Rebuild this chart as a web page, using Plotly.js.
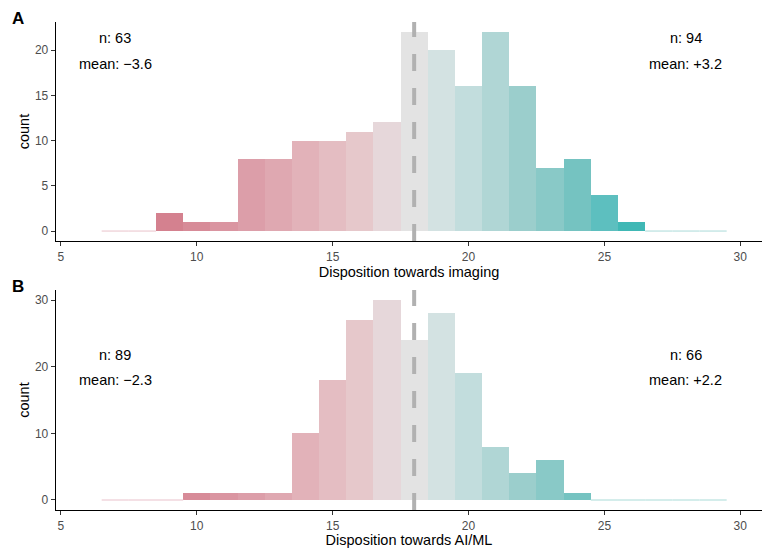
<!DOCTYPE html>
<html>
<head>
<meta charset="utf-8">
<script src="https://cdn.plot.ly/plotly-3.0.1.min.js"></script>
<style>html,body{margin:0;padding:0;background:#fff;}#chart{width:762px;height:548px;}</style>
</head>
<body>
<div id="chart"></div>
<script>
// ---- data ----
const binCenters = [7,8,9,10,11,12,13,14,15,16,17,18,19,20,21,22,23,24,25,26,27,28,29];
const countsImaging = [0,0,2,1,1,8,8,10,10,11,12,22,20,16,22,16,7,8,4,1,0,0,0];
const countsAIML    = [0,0,0,1,1,1,1,10,18,27,30,24,28,19,8,4,6,1,0,0,0,0,0];
const neutralPoint = 18;
const statsImaging = {nNeg: 63, meanNeg: "−3.6", nPos: 94, meanPos: "+3.2"};
const statsAIML    = {nNeg: 89, meanNeg: "−2.3", nPos: 66, meanPos: "+2.2"};
const xTickVals = [5,10,15,20,25,30];
const yTickValsA = [0,5,10,15,20];
const yTickValsB = [0,10,20,30];

// ---- styles ----
const binColors = ['#cc6a7c','#d07585','#d4818f','#d78b98','#da95a1','#dc9ea9','#dfa8b1','#e2b2b9','#e4bdc2','#e6c8cb','#e6d7da',
  '#e3e3e3','#d3e2e2','#c2dddd','#b0d6d5','#9bcecc','#89c9c7','#75c3c1','#5dbfbf','#40b8b5','#30b3b0','#25afac','#1aaba8'];
const zeroLineColorsNeg = '#f1d6dc', zeroLineColorPos = '#c6e7e5';

function panelTraces(counts, xa, ya){
  const traces = [{
    type:'bar', x: binCenters, y: counts, width: 1,
    marker:{color: binColors, line:{width:0}},
    xaxis: xa, yaxis: ya, hoverinfo:'x+y', showlegend:false
  }];
  binCenters.forEach((c,i)=>{
    if(counts[i]===0){
      traces.push({type:'scatter', mode:'lines', x:[c-0.5,c+0.5], y:[counts[i],counts[i]],
        line:{color: c<neutralPoint ? zeroLineColorsNeg : zeroLineColorPos, width:1.5},
        xaxis: xa, yaxis: ya, hoverinfo:'skip', showlegend:false});
    }
  });
  return traces;
}

const data = [...panelTraces(countsImaging,'x','y'), ...panelTraces(countsAIML,'x2','y2')];

const tickFont = {family:'"Liberation Sans", Arial, sans-serif', size:12, color:'#4d4d4d'};
const titleFont = {family:'"Liberation Sans", Arial, sans-serif', size:14.5, color:'#000'};
const xRange = [4.82, 30.8];

function xaxis(anchor, title){
  return {anchor: anchor, domain:[0,1], range: xRange, tickvals: xTickVals, ticks:'outside', ticklen:4, tickwidth:1,
    tickcolor:'#333', showline:true, linecolor:'#000', linewidth:1.3, showgrid:false, zeroline:false,
    tickfont: tickFont, title:{text: title, font: titleFont, standoff: 3}};
}
function yaxis(anchor, domain, range, tv){
  return {anchor: anchor, domain: domain, range: range, tickvals: tv, ticks:'outside', ticklen:4, tickwidth:1,
    tickcolor:'#333', showline:true, linecolor:'#000', linewidth:1.3, showgrid:false, zeroline:false,
    tickfont: tickFont, title:{text:'count', font: titleFont, standoff: 2}};
}

const annFont = {family:'"Liberation Sans", Arial, sans-serif', size:14.5, color:'#000'};
function statAnn(xr, yr, x, y, text){
  return {xref: xr, yref: yr, x: x, y: y, text: text, showarrow:false, font: annFont, xanchor:'center', yanchor:'middle'};
}

const layout = {
  width:762, height:548, margin:{l:56, r:0, t:22, b:38},
  paper_bgcolor:'#fff', plot_bgcolor:'#fff', bargap:0,
  xaxis: xaxis('y','Disposition towards imaging'),
  yaxis: yaxis('x',[0.5512,1],[-1.1,23.1],yTickValsA),
  xaxis2: xaxis('y2','Disposition towards AI/ML'),
  yaxis2: yaxis('x2',[0,0.4508],[-1.5,31.5],yTickValsB),
  shapes:[
    {type:'line', xref:'x', yref:'y domain', x0:neutralPoint, x1:neutralPoint, y0:0, y1:1, layer:'above',
     line:{color:'#b1b1b1', width:4, dash:'17px,17px'}},
    {type:'line', xref:'x2', yref:'y2 domain', x0:neutralPoint, x1:neutralPoint, y0:0, y1:1, layer:'above',
     line:{color:'#b1b1b1', width:4, dash:'17px,17px'}}
  ],
  annotations:[
    statAnn('x','y',7,21.3,'n: '+statsImaging.nNeg),
    statAnn('x','y',7,18.45,'mean: '+statsImaging.meanNeg),
    statAnn('x','y',28,21.3,'n: '+statsImaging.nPos),
    statAnn('x','y',28,18.45,'mean: '+statsImaging.meanPos),
    statAnn('x2','y2',7,21.75,'n: '+statsAIML.nNeg),
    statAnn('x2','y2',7,18.0,'mean: '+statsAIML.meanNeg),
    statAnn('x2','y2',28,21.75,'n: '+statsAIML.nPos),
    statAnn('x2','y2',28,18.0,'mean: '+statsAIML.meanPos),
    {xref:'paper', yref:'paper', x:-0.054, y:1.008, text:'<b>A</b>', showarrow:false, xanchor:'center', yanchor:'middle',
     font:{family:'"Liberation Sans", Arial, sans-serif', size:17, color:'#000'}},
    {xref:'paper', yref:'paper', x:-0.054, y:0.457, text:'<b>B</b>', showarrow:false, xanchor:'center', yanchor:'middle',
     font:{family:'"Liberation Sans", Arial, sans-serif', size:17, color:'#000'}}
  ]
};

Plotly.newPlot('chart', data, layout, {displayModeBar:false, staticPlot:true});
</script>
</body>
</html>
